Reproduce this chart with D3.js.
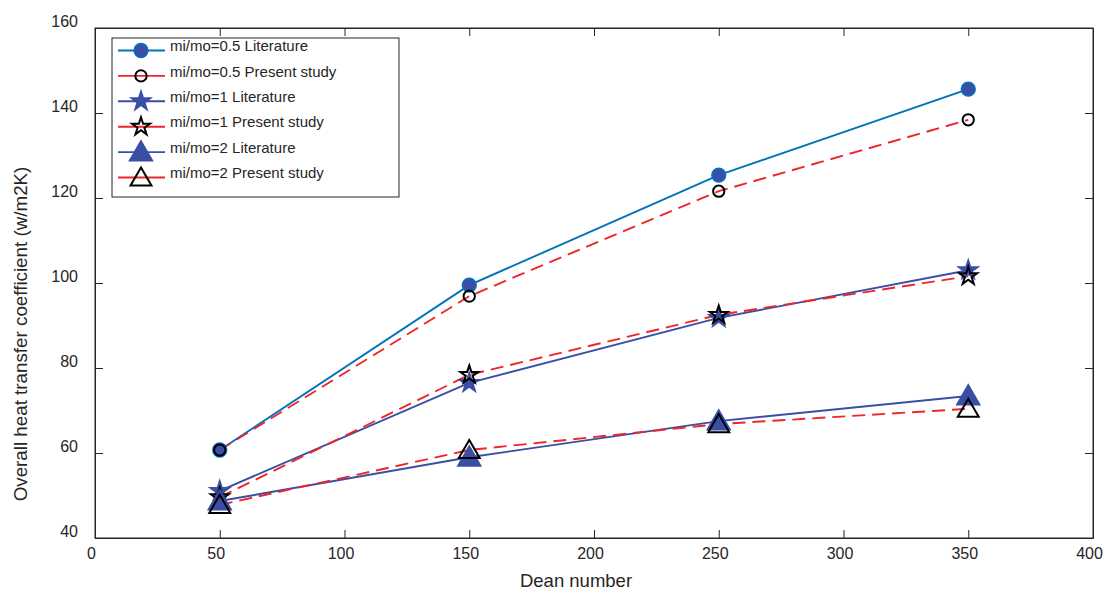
<!DOCTYPE html>
<html>
<head>
<meta charset="utf-8">
<script src="https://cdn.jsdelivr.net/npm/d3@7"></script>
<style>
  body { margin: 0; background: #fff; }
  text { font-family: "Liberation Sans", Arial, sans-serif; fill: #262626; }
</style>
</head>
<body>
<svg id="chart" width="1105" height="592"></svg>
<script>
// data
var deanNumbers = [50, 150, 250, 350];
var lit05 = [60.7, 99.5, 125.4, 145.6];
var pres05 = [60.7, 96.9, 121.6, 138.4];
var lit1 = [51.1, 76.5, 91.8, 103.0];
var pres1 = [49.6, 78.4, 92.5, 101.6];
var lit2 = [48.7, 59.0, 67.5, 73.4];
var pres2 = [47.8, 60.7, 66.8, 70.4];
var seriesNames = [
  "mi/mo=0.5 Literature", "mi/mo=0.5 Present study",
  "mi/mo=1 Literature", "mi/mo=1 Present study",
  "mi/mo=2 Literature", "mi/mo=2 Present study"
];
var xTicks = [0, 50, 100, 150, 200, 250, 300, 350, 400];
var yTicks = [40, 60, 80, 100, 120, 140, 160];

var config = { left: 95, right: 1093, top: 28, bottom: 538 };

var red = "#ee2529", blue = "#0072bd", indigo = "#3a4ea6";
var series = [
  { name: seriesNames[0], values: lit05, stroke: blue, dash: null, marker: "circle", fill: indigo, edge: blue },
  { name: seriesNames[1], values: pres05, stroke: red, dash: "13,7", marker: "circle", fill: "none", edge: "#000" },
  { name: seriesNames[2], values: lit1, stroke: indigo, dash: null, marker: "star", fill: indigo, edge: indigo },
  { name: seriesNames[3], values: pres1, stroke: red, dash: "13,7", marker: "star", fill: "none", edge: "#000" },
  { name: seriesNames[4], values: lit2, stroke: indigo, dash: null, marker: "triangle", fill: indigo, edge: indigo },
  { name: seriesNames[5], values: pres2, stroke: red, dash: "13,7", marker: "triangle", fill: "none", edge: "#000" }
];

var svg = d3.select("#chart");

var x = d3.scaleLinear().domain([0, 400]).range([config.left, config.right]);
var y = d3.scaleLinear().domain([40, 160]).range([config.bottom, config.top]);

// box
svg.append("rect")
  .attr("x", config.left).attr("y", config.top)
  .attr("width", config.right - config.left)
  .attr("height", config.bottom - config.top)
  .attr("fill", "none").attr("stroke", "#262626").attr("stroke-width", 1);

// axes with inward ticks
var xAxis = svg.append("g").attr("transform", "translate(0," + config.bottom + ")")
  .call(d3.axisBottom(x).tickValues(xTicks).tickSizeInner(-8).tickSizeOuter(0).tickPadding(10));
var xTop = svg.append("g").attr("transform", "translate(0," + config.top + ")")
  .call(d3.axisTop(x).tickValues(xTicks).tickSizeInner(-8).tickSizeOuter(0).tickFormat(""));
var yAxis = svg.append("g").attr("transform", "translate(" + config.left + ",0)")
  .call(d3.axisLeft(y).tickValues(yTicks).tickSizeInner(-8).tickSizeOuter(0).tickPadding(17));
var yRight = svg.append("g").attr("transform", "translate(" + config.right + ",0)")
  .call(d3.axisRight(y).tickValues(yTicks).tickSizeInner(-8).tickSizeOuter(0).tickFormat(""));

[xAxis, xTop, yAxis, yRight].forEach(function(a) {
  a.select(".domain").attr("stroke", "#262626");
  a.selectAll(".tick line").attr("stroke", "#262626");
  a.selectAll("text").attr("font-size", 16).attr("font-family", "Liberation Sans, Arial, sans-serif").attr("fill", "#262626");
});
xAxis.selectAll("text").attr("dx", -4);
yAxis.selectAll("text").attr("dy", "-0.1em");

// axis labels
svg.append("text")
  .attr("x", 576).attr("y", 587)
  .attr("text-anchor", "middle").attr("font-size", 18.5)
  .text("Dean number");
svg.append("text")
  .attr("transform", "translate(26.5,334) rotate(-90)")
  .attr("text-anchor", "middle").attr("font-size", 18.8)
  .text("Overall heat transfer coefficient (w/m2K)");

var line = d3.line()
  .x(function(d, i) { return x(deanNumbers[i]); })
  .y(function(d) { return y(d); });

function drawMarker(g, s, px, py) {
  var size, sym, dy = 0;
  if (s.marker == "circle") {
    sym = d3.symbolCircle;
    size = s.fill == "none" ? 100 : 150;
  } else if (s.marker == "star") {
    sym = d3.symbolStar;
    size = s.fill == "none" ? 100 : 120;
  } else {
    sym = d3.symbolTriangle;
    size = s.fill == "none" ? 190 : 230;
    dy = 2;
  }
  g.append("path")
    .attr("d", d3.symbol().type(sym).size(size)())
    .attr("transform", "translate(" + px + "," + (py + dy) + ")")
    .attr("fill", s.fill == "none" ? "#fff" : s.fill)
    .attr("fill-opacity", s.fill == "none" ? 0 : 1)
    .attr("stroke", s.edge)
    .attr("stroke-width", s.fill == "none" ? 2 : 1.5);
}

var plot = svg.append("g").attr("id", "plot");

series.forEach(function(s) {
  plot.append("path")
    .datum(s.values)
    .attr("d", line)
    .attr("fill", "none")
    .attr("stroke", s.stroke)
    .attr("stroke-width", 1.9)
    .attr("stroke-dasharray", s.dash);
});

series.forEach(function(s) {
  s.values.forEach(function(v, i) {
    drawMarker(plot, s, x(deanNumbers[i]), y(v));
  });
});

// legend
var leg = svg.append("g").attr("id", "legend").attr("transform", "translate(112,38)");
leg.append("rect")
  .attr("width", 287).attr("height", 159)
  .attr("fill", "#fff").attr("stroke", "#262626").attr("stroke-width", 1);

series.forEach(function(s, i) {
  var row = leg.append("g").attr("transform", "translate(0," + (12.5 + 25.4 * i) + ")");
  row.append("line")
    .attr("x1", 6).attr("x2", 53).attr("y1", 0).attr("y2", 0)
    .attr("stroke", s.stroke).attr("stroke-width", 1.9);
  drawMarker(row, s, 29, 0);
  row.append("text")
    .attr("x", 58).attr("y", 0).attr("dy", "0.05em")
    .attr("font-size", 15)
    .text(s.name);
});
</script>
</body>
</html>
